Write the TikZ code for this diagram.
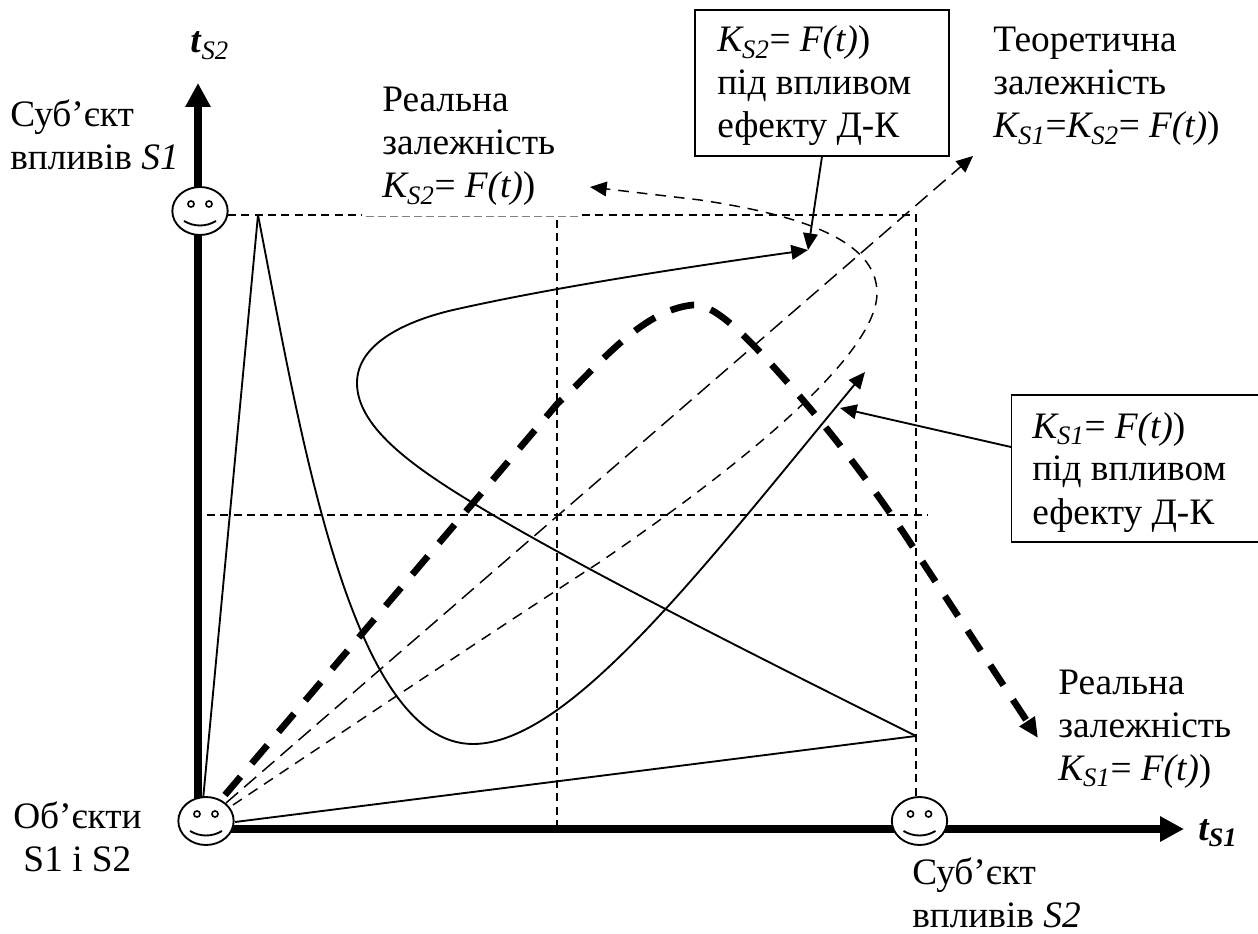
\documentclass[tikz,border=0pt]{standalone}
\usepackage{fontspec}
\setmainfont{Liberation Serif}
\usetikzlibrary{arrows.meta,shapes.geometric}
\tikzset{
  x=0.75pt,y=-0.75pt,
  txt/.style={font=\fontsize{28}{32.25}\selectfont,align=left,inner sep=0pt,anchor=base west},
  axis/.style={line width=6pt,-{Triangle[length=18pt,width=18pt]}},
  guide/.style={line width=1.1pt,dash pattern=on 6pt off 4pt},
  fine/.style={line width=1.4pt},
  tip/.style={-{Triangle[length=12.5pt,width=11pt]}},
  smile/.style={draw,line width=1.4pt,fill=white,ellipse,minimum width=41.5pt,minimum height=36pt,inner sep=0pt},
  framed/.style={draw,line width=0.9pt,inner sep=0pt},
}
\newcommand{\Ks}[1]{\textit{K\textsubscript{\fontsize{20}{20}\selectfont S#1}}}
\newcommand{\face}[3]{%
  \node[smile] (#3) at (#1,#2) {};
  \draw[line width=1.2pt,fill=white] (#1-9,#2-7) circle[radius=2.3pt];
  \draw[line width=1.2pt,fill=white] (#1+9,#2-7) circle[radius=2.3pt];
  \draw[line width=1.4pt] (#1-16,#2+10) .. controls (#1-6,#2+16) and (#1+6,#2+16) .. (#1+16,#2+10);
}
\begin{document}
\begin{tikzpicture}
\useasboundingbox[clip] (0,0) rectangle (1258,934);
% anchors
\coordinate (tipY) at (198,83);
\coordinate (tipX) at (1184,829);
\coordinate (peakA) at (258,215);
\coordinate (peakB) at (916,736);
% guides
\draw[guide] (228,215) -- (362,215);
\draw[line width=0.6pt,gray,dash pattern=on 6pt off 3pt] (366,216) -- (582,216);
\draw[guide] (582,215) -- (916,215) -- (916,797);
\draw[guide] (557,220) -- (557,829);
\draw[guide] (207,515) -- (928,515);
% axes
\draw[axis] (198,829) -- (tipY);
\draw[axis] (198,829) -- (tipX);
% solid curves
\draw[fine] (203,800) -- (peakA);
\draw[fine,tip] (peakA) .. controls (300,430) and (350,744) .. (473,744)
   .. controls (570,744) and (705,565) .. (865,372);
\draw[fine] (235,822) -- (peakB);
\draw[fine,tip] (peakB) .. controls (780,668) and (600,578) .. (493,515)
   .. controls (420,472) and (357,430) .. (357,383)
   .. controls (357,342) and (410,320) .. (453,310)
   .. controls (550,288) and (680,268) .. (808,250);
% dashed
\draw[line width=1.1pt,dash pattern=on 12pt off 6pt,tip] (226,803) -- (973,156);
\draw[line width=1.1pt,dash pattern=on 8pt off 6pt,tip] (233,805) .. controls (350,727) and (480,640) .. (600,562)
   .. controls (720,480) and (877,360) .. (877,293)
   .. controls (877,240) and (800,215) .. (700,200)
   -- (590,187);
\draw[line width=5pt,dash pattern=on 18pt off 13pt,-{Triangle[length=15pt,width=13pt]}]
   (225,795) -- (558,403)
   .. controls (595,370) and (640,310) .. (693,305)
   .. controls (715,303) and (750,340) .. (788,383)
   .. controls (830,430) and (880,495) .. (920,558)
   -- (1038,738);
% boxes
\node[framed,minimum width=190.5pt,minimum height=109.5pt] (box1) at (822,83) {};
\node[framed,minimum width=200pt,minimum height=110.25pt] (box2) at (1144.5,468.5) {};
\coordinate (t1) at (808,250);
\coordinate (t2) at (840,408);
\draw[fine,tip] (box1.south) -- (t1);
\draw[fine,tip] (1011,447) -- (t2);
\node[txt] at (717,138) {\Ks{2}= \textit{F(t)})\\під впливом\\ефекту Д-К};
\node[txt] at (1032,524) {\Ks{1}= \textit{F(t)})\\під впливом\\ефекту Д-К};
% faces
\face{200}{211}{fa}
\face{206}{821}{fb}
\face{919.5}{821}{fc}
% labels
\node[txt] at (382,198) {Реальна\\залежність\\\Ks{2}= \textit{F(t)})};
\node[txt] at (993,138) {Теоретична\\залежність\\\Ks{1}=\Ks{2}= \textit{F(t)})};
\node[txt] at (10,170) {Суб’єкт\\впливів \textit{S1}};
\node[txt] at (1058,780) {Реальна\\залежність\\\Ks{1}= \textit{F(t)})};
\node[txt,align=center] at (13,871) {Об’єкти\\S1 і S2};
\node[txt] at (912,927) {Суб’єкт\\впливів \textit{S2}};
\node[txt] at (190,53) {\textbf{\textit{t}}\textit{\textsubscript{\fontsize{20}{20}\selectfont S2}}};
\node[txt] at (1198,840) {\textbf{\textit{t\textsubscript{\fontsize{20}{20}\selectfont S1}}}};
\end{tikzpicture}
\end{document}
